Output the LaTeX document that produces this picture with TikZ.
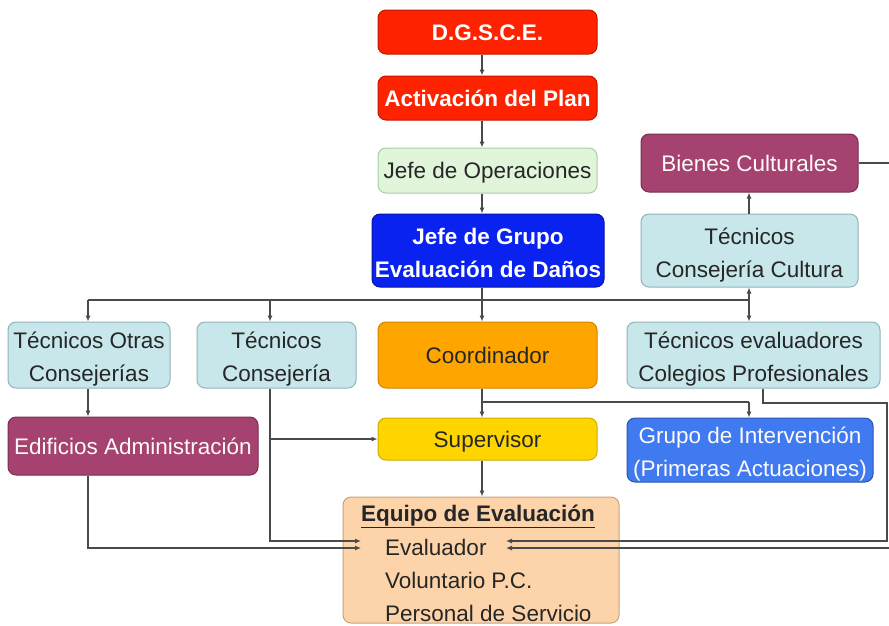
\documentclass[tikz,border=0pt]{standalone}
\usepackage{fontspec}
\setmainfont{Liberation Sans}
\usetikzlibrary{arrows.meta}
\definecolor{cred}{HTML}{FF2200}\definecolor{credd}{HTML}{C01800}
\definecolor{cgreen}{HTML}{E0F5DA}\definecolor{cgreend}{HTML}{A9CFA5}
\definecolor{cblue}{HTML}{0A22F0}\definecolor{cblued}{HTML}{0815A0}
\definecolor{cmag}{HTML}{A6426F}\definecolor{cmagd}{HTML}{7A2E50}
\definecolor{ccyan}{HTML}{C8E7EB}\definecolor{ccyand}{HTML}{8FB5BA}
\definecolor{corange}{HTML}{FFA500}\definecolor{coranged}{HTML}{D08500}
\definecolor{cyellow}{HTML}{FFD500}\definecolor{cyellowd}{HTML}{D0AA00}
\definecolor{cblueb}{HTML}{3F7AF0}\definecolor{cbluebd}{HTML}{2A55B0}
\definecolor{cpeach}{HTML}{FDD4AA}\definecolor{cpeachd}{HTML}{C9A17C}
\definecolor{ctext}{HTML}{262626}
\definecolor{cline}{HTML}{4A4A4A}
\newcommand\mltxt[1]{\raisebox{0pt}[\height][\dimexpr\depth-7pt\relax]{\begin{tabular}{@{}c@{}}#1\end{tabular}}}
\begin{document}
\begin{tikzpicture}[x=1pt,y=-1pt,
  bx/.style={rounded corners=8pt, line width=1pt, inner sep=0pt, align=center,
    font=\fontsize{22.5}{33}\selectfont, text=ctext},
  sl/.style={text height=17pt, text depth=1pt},
  whb/.style={text=white, font=\fontsize{22.5}{33}\selectfont\bfseries},
  whn/.style={text=white!92!pink},
  con/.style={draw=cline, line width=1.1pt},
  arr/.style={con, -{Latex[length=6pt,width=5pt]}},
  txt/.style={inner sep=0pt, font=\fontsize{22.5}{33}\selectfont, text=ctext, text height=17pt, text depth=1pt}]
\clip (0,0) rectangle (889,625);
\fill[white] (0,0) rectangle (889,625);
% nodes
\node[bx, whb, sl, fill=cred, draw=credd, minimum width=219pt, minimum height=44pt] (dg) at (487.5,32) {D.G.S.C.E.};
\node[bx, whb, sl, fill=cred, draw=credd, minimum width=219pt, minimum height=44pt] (act) at (487.5,98) {Activación del Plan};
\node[bx, sl, fill=cgreen, draw=cgreend, minimum width=219pt, minimum height=45pt] (ops) at (487.5,170.5) {Jefe de Operaciones};
\node[bx, whb, fill=cblue, draw=cblued, minimum width=232pt, minimum height=73pt] (jg) at (488,250.5) {\mltxt{Jefe de Grupo\\Evaluación de Daños}};
\node[bx, whn, sl, fill=cmag, draw=cmagd, minimum width=217pt, minimum height=58pt] (bc) at (749.5,163) {Bienes Culturales};
\node[bx, fill=ccyan, draw=ccyand, minimum width=217pt, minimum height=73pt] (tcc) at (749.5,250.5) {\mltxt{Técnicos\\Consejería Cultura}};
\node[bx, fill=ccyan, draw=ccyand, minimum width=162pt, minimum height=66pt] (tot) at (89,355) {\mltxt{Técnicos Otras\\Consejerías}};
\node[bx, fill=ccyan, draw=ccyand, minimum width=159pt, minimum height=66pt] (tc) at (276.5,355) {\mltxt{Técnicos\\Consejería}};
\node[bx, sl, fill=corange, draw=coranged, minimum width=219pt, minimum height=66pt] (coord) at (487.5,355) {Coordinador};
\node[bx, fill=ccyan, draw=ccyand, minimum width=253pt, minimum height=66pt] (tev) at (753.5,355) {\mltxt{Técnicos evaluadores\\Colegios Profesionales}};
\node[bx, whn, sl, fill=cmag, draw=cmagd, minimum width=250pt, minimum height=58pt] (edif) at (133,446) {Edificios Administración};
\node[bx, sl, fill=cyellow, draw=cyellowd, minimum width=219pt, minimum height=42pt] (sup) at (487.5,439) {Supervisor};
\node[bx, whn, fill=cblueb, draw=cbluebd, minimum width=246pt, minimum height=64pt] (gi) at (750,450) {\mltxt{Grupo de Intervención\\(Primeras Actuaciones)}};
\node[bx, fill=cpeach, draw=cpeachd, minimum width=276pt, minimum height=126pt] (eq) at (481,560) {};
\node[txt, font=\fontsize{22.5}{33}\selectfont\bfseries] (eqt) at (478,513) {\underline{Equipo de Evaluación}};
\node[txt, anchor=west] (ev1) at (385,547) {Evaluador};
\node[txt, anchor=west] (ev2) at (385,580) {Voluntario P.C.};
\node[txt, anchor=west] (ev3) at (385,613) {Personal de Servicio};
% helper coordinates
\coordinate (tx) at (482,0);
\coordinate (lx) at (88,0);
\coordinate (cx) at (270,0);
\coordinate (rx) at (749,0);
\coordinate (vx) at (763,0);
\coordinate (ex) at (887,0);
\coordinate (fx) at (900,0);
\coordinate (evl) at (361,0);
\coordinate (evr) at (506,0);
\coordinate (b1) at (0,300);
\coordinate (b2) at (0,402);
\coordinate (b3) at (0,541);
\coordinate (b4) at (0,548);
\coordinate (b5) at (0,403);
% connectors
\draw[arr] (dg.south -| tx) -- (act.north -| tx);
\draw[arr] (act.south -| tx) -- (ops.north -| tx);
\draw[arr] (ops.south -| tx) -- (jg.north -| tx);
\draw[con] (jg.south -| tx) -- (b1 -| tx);
\draw[con] (b1 -| lx) -- (b1 -| rx);
\draw[arr] (b1 -| lx) -- (tot.north -| lx);
\draw[arr] (b1 -| cx) -- (tc.north -| cx);
\draw[arr] (b1 -| tx) -- (coord.north -| tx);
\draw[arr] (b1 -| rx) -- (tev.north -| rx);
\draw[arr] (b1 -| rx) -- (tcc.south -| rx);
\draw[arr] (tcc.north -| rx) -- (bc.south -| rx);
\draw[con] (coord.south -| tx) -- (b2 -| tx) -- (b2 -| rx);
\draw[arr] (b2 -| tx) -- (sup.north -| tx);
\draw[arr] (b2 -| rx) -- (gi.north -| rx);
\draw[arr] (tot.south -| lx) -- (edif.north -| lx);
\draw[arr] (tc.south -| cx) -- (b3 -| cx) -- (b3 -| evl);
\draw[arr] (sup.west -| cx) -- (sup.west);
\draw[arr] (edif.south -| lx) -- (b4 -| lx) -- (b4 -| evl);
\draw[arr] (sup.south -| tx) -- (eq.north -| tx);
\draw[arr] (tev.south -| vx) -- (b5 -| vx) -- (b5 -| ex) -- (b3 -| ex) -- (b3 -| evr);
\draw[arr] (bc.east) -- (bc.east -| fx) -- (b4 -| fx) -- (b4 -| evr);
\end{tikzpicture}
\end{document}
